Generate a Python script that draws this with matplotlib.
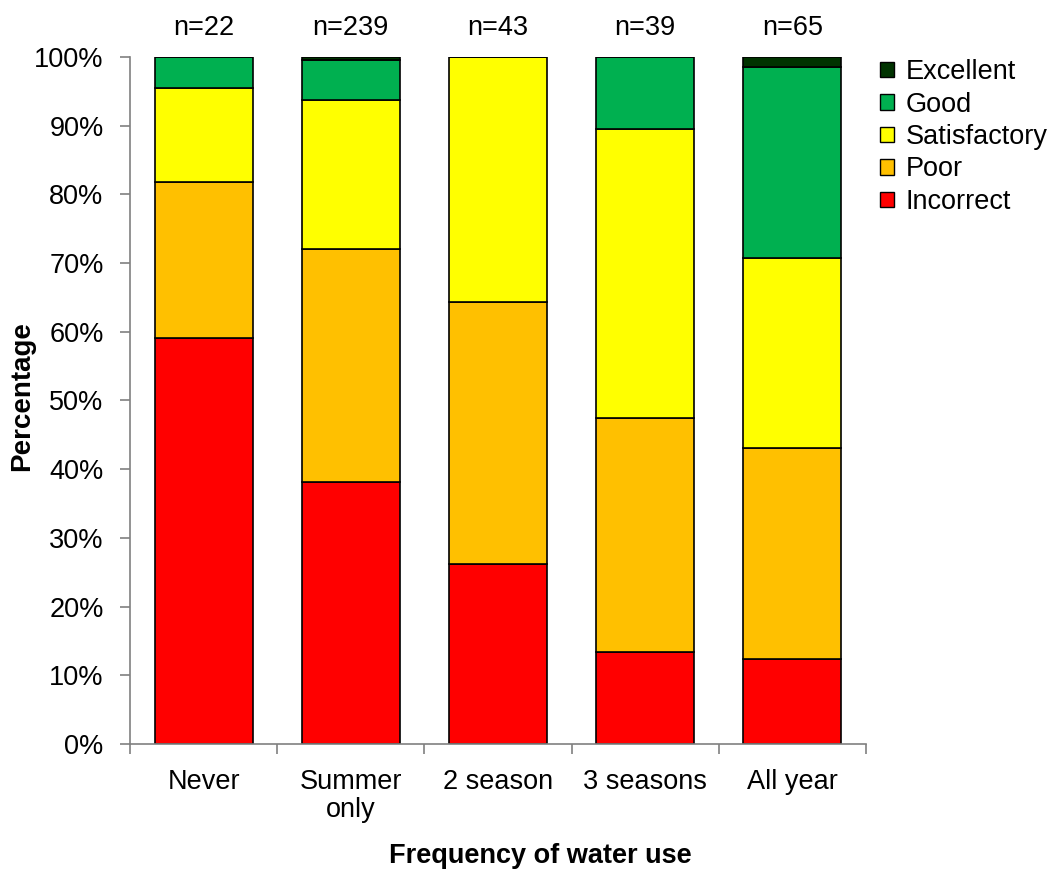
import numpy as np
import matplotlib.pyplot as plt
from matplotlib.patches import Patch
from matplotlib.ticker import PercentFormatter

plt.rcParams['font.family'] = ['Liberation Sans', 'DejaVu Sans']

categories = ["Never", "Summer\nonly", "2 season", "3 seasons", "All year"]
n_labels = ["n=22", "n=239", "n=43", "n=39", "n=65"]

# percentages per rating, bottom to top
incorrect = [59.1, 38.1, 26.2, 13.4, 12.3]
poor = [22.7, 33.9, 38.1, 34.1, 30.8]
satisfactory = [13.7, 21.7, 35.7, 42.0, 27.7]
good = [4.5, 5.9, 0.0, 10.5, 27.7]
excellent = [0.0, 0.4, 0.0, 0.0, 1.5]

series = [("Incorrect", incorrect, "#ff0000"),
          ("Poor", poor, "#ffc000"),
          ("Satisfactory", satisfactory, "#ffff00"),
          ("Good", good, "#00b050"),
          ("Excellent", excellent, "#003300")]

W, H = 1059, 872
fig = plt.figure(figsize=(W / 100, H / 100), dpi=100)
ax = fig.add_axes([130 / W, (H - 744) / H, 736 / W, 687 / H])

x = np.arange(len(categories))
bottom = np.zeros(len(categories))
for name, vals, col in series:
    vals = np.array(vals)
    ax.bar(x, vals, 0.667, bottom=bottom, color=col, edgecolor="black",
           linewidth=1.2, zorder=2)
    bottom += vals

ax.set_xlim(-0.5, len(categories) - 0.5)
ax.set_ylim(0, 100)
ax.set_yticks(np.arange(0, 101, 10))
ax.yaxis.set_major_formatter(PercentFormatter(decimals=0))

ax.set_xticks(x)
ax.set_xticklabels(categories, fontsize=19.5, linespacing=1.1)
ax.set_xticks(np.arange(-0.5, len(categories)), minor=True)
ax.tick_params(axis="x", which="major", length=0, pad=18)
ax.tick_params(axis="x", which="minor", length=7, width=1.2, color="#808080")
ax.tick_params(axis="y", labelsize=19.5, length=7, width=1.2, color="#808080", pad=12)

for s in ["top", "right"]:
    ax.spines[s].set_visible(False)
for s in ["left", "bottom"]:
    ax.spines[s].set_color("#808080")
    ax.spines[s].set_linewidth(1.2)

for xi, lab in zip(x, n_labels):
    ax.text(xi, 103.2, lab, ha="center", va="baseline", fontsize=19.5)

fig.text(22 / W, 1 - 396 / H, "Percentage", rotation=90, ha="center", va="center",
         fontsize=20, fontweight="bold")
fig.text(540 / W, 1 - 863 / H, "Frequency of water use", ha="center", va="baseline",
         fontsize=19.5, fontweight="bold")

handles = [Patch(facecolor=col, edgecolor="black", label=name)
           for name, vals, col in reversed(series)]
fig.legend(handles=handles, loc="upper left", bbox_to_anchor=(880 / W, 1 - 59 / H),
           frameon=False, fontsize=19.5, handlelength=0.5, handleheight=0.5,
           handletextpad=0.45, labelspacing=0.24, borderaxespad=0, borderpad=0)

fig.savefig("out.png", dpi=100)
